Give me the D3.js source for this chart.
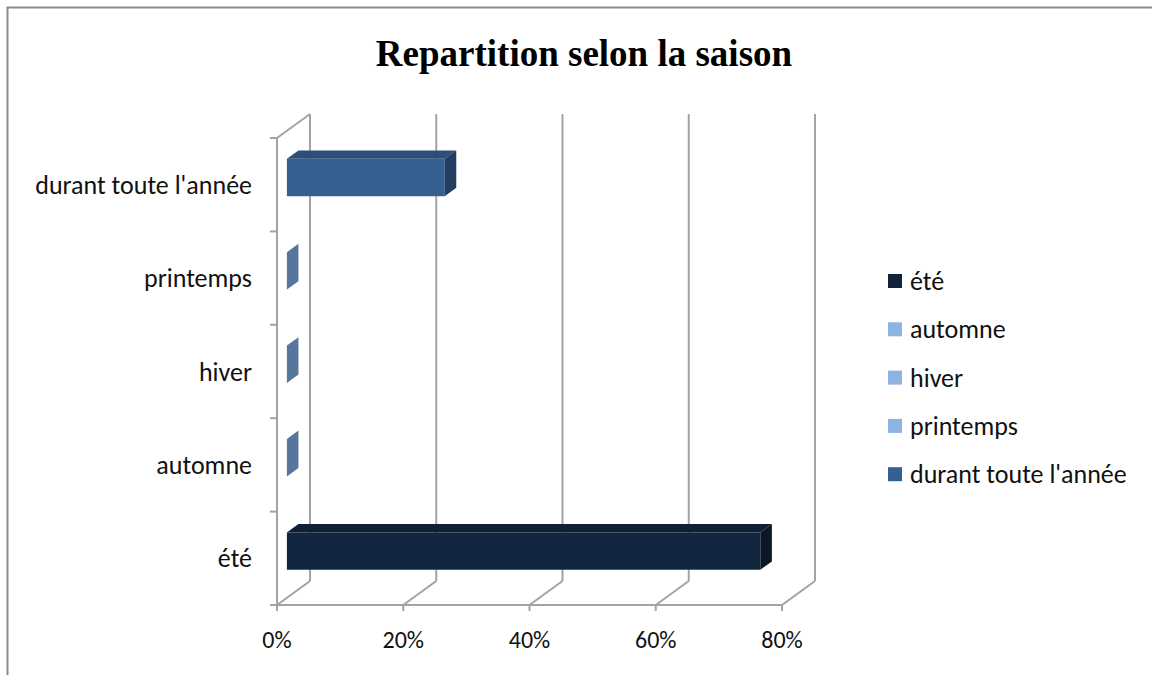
<!DOCTYPE html>
<html>
<head>
<meta charset="utf-8">
<script src="https://cdn.jsdelivr.net/npm/d3@7"></script>
<style>
body{margin:0;background:#fff;}
svg{display:block;}
</style>
</head>
<body>
<svg id="chart" width="1152" height="675"></svg>
<script>
var categories = ["été", "automne", "hiver", "printemps", "durant toute l'année"];
var values = [0.75, 0, 0, 0, 0.25];
var tickValues = [0, 0.2, 0.4, 0.6, 0.8];
var legendColors = ["#10243e", "#8db3e2", "#8db3e2", "#8db3e2", "#366092"];
var frontColors = ["#13263f", "#5a7a9f", "#5a7a9f", "#5a7a9f", "#365f91"];
var topColors = ["#0f1f35", "#4d6b8f", "#4d6b8f", "#4d6b8f", "#2d4e78"];
var sideColors = ["#0b1727", "#58769b", "#58769b", "#58769b", "#233e60"];

var svg = d3.select("#chart");

// chart border
svg.append("path")
	.attr("d", "M7.5 675 L7.5 7.5 L1152 7.5")
	.attr("fill", "none")
	.attr("stroke", "#8a8a8a")
	.attr("stroke-width", 2);

svg.append("text")
	.attr("x", 584).attr("y", 66)
	.attr("text-anchor", "middle")
	.attr("font-family", "Liberation Serif, Times New Roman, serif")
	.attr("font-weight", "bold")
	.attr("font-size", 37)
	.text("Repartition selon la saison");

var x = d3.scaleLinear().domain([0, 0.8]).range([277, 782]);
var y = d3.scaleBand().domain(categories.slice().reverse()).range([138, 605]);
var DX = 33, DY = -24;

function pt(px, py, t){
	return [px + DX*t, py + DY*t];
}
function poly(pts){
	return "M" + pts.map(function(p){ return p[0]+" "+p[1]; }).join(" L") + " Z";
}
function line(x0,y0,x1,y1){
	return "M"+x0+" "+y0+" L"+x1+" "+y1;
}

var grid = svg.append("g")
	.attr("fill", "none")
	.attr("stroke", "#a3a3a3")
	.attr("stroke-width", 2);

// back wall gridlines + floor diagonals
tickValues.forEach(function(v){
	var b = pt(x(v), 605, 1), tp = pt(x(v), 138, 1);
	grid.append("path").attr("d", line(b[0], tp[1], b[0], b[1]));
	grid.append("path").attr("d", line(x(v), 605, b[0], b[1]));
	grid.append("path").attr("d", line(x(v), 605, x(v), 611));
});
// left wall
var lt = pt(x(0), 138, 1);
grid.append("path").attr("d", line(x(0), 138, x(0), 605));
grid.append("path").attr("d", line(x(0), 138, lt[0], lt[1]));
// floor front edge
grid.append("path").attr("d", line(x(0), 605, x(0.8), 605));
// category ticks
var bounds = categories.map(function(c){ return y(c); }).concat([605]);
bounds.forEach(function(b){
	grid.append("path").attr("d", line(270, b, x(0), b));
});

// bars
var t0 = 0.3, t1 = 0.65;
var bh = y.bandwidth() * 0.4;
var bars = svg.append("g");
categories.forEach(function(c, i){
	var cy = y(c) + y.bandwidth()/2;
	var yTop = cy - bh/2, yBot = cy + bh/2;
	var fl = pt(x(0), yTop, t0), fr = pt(x(values[i]), yTop, t0);
	var flb = pt(x(0), yBot, t0), frb = pt(x(values[i]), yBot, t0);
	var bl = pt(x(0), yTop, t1), br = pt(x(values[i]), yTop, t1);
	var brb = pt(x(values[i]), yBot, t1);
	if(values[i] > 0){
		bars.append("path").attr("d", poly([fl, fr, frb, flb])).attr("fill", frontColors[i]);
		bars.append("path").attr("d", poly([fl, bl, br, fr])).attr("fill", topColors[i]);
	}
	bars.append("path").attr("d", poly([fr, br, brb, frb])).attr("fill", sideColors[i]);
});

// category labels
svg.append("g").selectAll("text")
	.data(categories)
	.join("text")
	.attr("x", 252)
	.attr("y", function(d){ return y(d) + y.bandwidth()/2; })
	.attr("dy", "0.35em")
	.attr("text-anchor", "end")
	.attr("font-family", "Carlito, Lato, sans-serif")
	.attr("font-size", 26)
	.attr("fill", "#111")
	.text(function(d){ return d; });

// x tick labels
svg.append("g").selectAll("text")
	.data(tickValues)
	.join("text")
	.attr("x", function(d){ return x(d); })
	.attr("y", 640)
	.attr("dy", "0.35em")
	.attr("text-anchor", "middle")
	.attr("font-family", "Carlito, Lato, sans-serif")
	.attr("font-size", 24)
	.attr("fill", "#111")
	.text(d3.format(".0%"));

// legend
var lg = svg.append("g").selectAll("g")
	.data(categories)
	.join("g")
	.attr("transform", function(d, i){ return "translate(888," + (281 + i*48.3) + ")"; });
lg.append("rect")
	.attr("x", 0).attr("y", -7)
	.attr("width", 14).attr("height", 14)
	.attr("fill", function(d, i){ return legendColors[i]; });
lg.append("text")
	.attr("x", 22)
	.attr("dy", "0.35em")
	.attr("font-family", "Carlito, Lato, sans-serif")
	.attr("font-size", 26)
	.attr("fill", "#111")
	.text(function(d){ return d; });
</script>
</body>
</html>
